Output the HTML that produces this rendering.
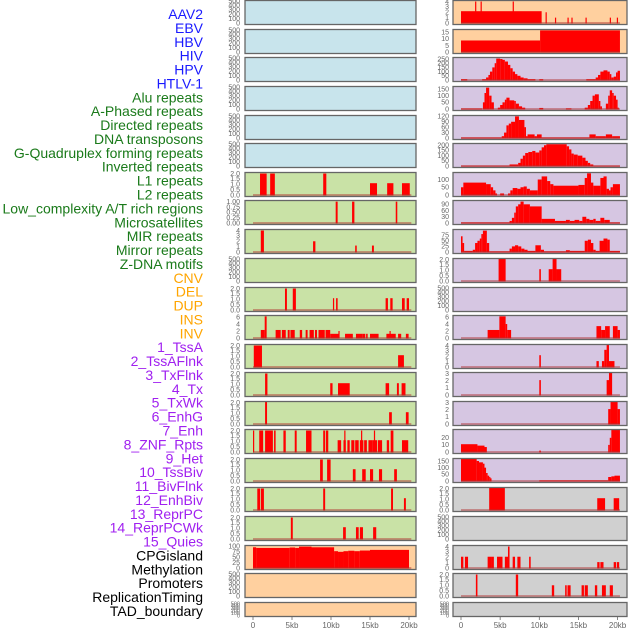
<!DOCTYPE html>
<html><head><meta charset="utf-8">
<style>
html,body{margin:0;padding:0;background:#fff;}
svg{display:block;font-family:"Liberation Sans",sans-serif;}
</style></head>
<body>
<svg id="chart" width="630" height="630" viewBox="0 0 630 630" xmlns="http://www.w3.org/2000/svg">
<g id="labels"></g>
<g id="panels"></g>
<g id="xaxes"></g>
</svg>
<script>
// ---- labels ----
const trackLabels = ["AAV2","EBV","HBV","HIV","HPV","HTLV-1","Alu repeats","A-Phased repeats","Directed repeats","DNA transposons","G-Quadruplex forming repeats","Inverted repeats","L1 repeats","L2 repeats","Low_complexity A/T rich regions","Microsatellites","MIR repeats","Mirror repeats","Z-DNA motifs","CNV","DEL","DUP","INS","INV","1_TssA","2_TssAFlnk","3_TxFlnk","4_Tx","5_TxWk","6_EnhG","7_Enh","8_ZNF_Rpts","9_Het","10_TssBiv","11_BivFlnk","12_EnhBiv","13_ReprPC","14_ReprPCWk","15_Quies","CPGisland","Methylation","Promoters","ReplicationTiming","TAD_boundary"];
const labelGroups = [6,13,5,15,5];
const labelColors = ["#1a1aff","#1a7a1a","#ffa500","#a020f0","#000000"];

// ---- panel rows ----
const rowTops = [0,29,57,86,115,143,172,200,229,258,287,315,344,372,401,429,458,487,516,545,573,602];
const leftBg = ["#c8e4ec","#c8e4ec","#c8e4ec","#c8e4ec","#c8e4ec","#c8e4ec","#c9e2a6","#c9e2a6","#c9e2a6","#c9e2a6","#c9e2a6","#c9e2a6","#c9e2a6","#c9e2a6","#c9e2a6","#c9e2a6","#c9e2a6","#c9e2a6","#c9e2a6","#ffd09f","#ffd09f","#ffd09f"];
const rightBg = ["#ffd09f","#ffd09f","#d6c6e2","#d6c6e2","#d6c6e2","#d6c6e2","#d6c6e2","#d6c6e2","#d6c6e2","#d6c6e2","#d6c6e2","#d6c6e2","#d6c6e2","#d6c6e2","#d6c6e2","#d6c6e2","#d6c6e2","#d0d0d0","#d0d0d0","#d0d0d0","#d0d0d0","#d0d0d0"];

const T500=[0,100,200,300,400,500], T2=[0,0.5,1,1.5,2], T4=[0,1,2,3,4], T3=[0,1,2,3];
const leftTicks = [T500,T500,T500,T500,T500,T500,T2,[0,0.25,0.5,0.75,1],T4,T500,T2,[0,2,4,6],T2,T2,T2,T2,T2,T2,T2,[0,25,50,75,100],T500,T500];
const leftMax = [500,500,500,500,500,500,2.05,1.03,4.1,500,2.05,6.3,2.05,2.05,2.05,2.05,2.05,2.05,2.05,102,500,500];
const rightTicks = [T4,[0,5,10,15],[0,50,100,150,200,250],[0,50,100,150],[0,30,60,90,120],[0,50,100,150,200],[0,50,100],[0,30,60,90],[0,25,50,75],T2,T500,[0,2,4,6],T4,T3,T3,[0,10,20],[0,50,100,150],T2,T500,T4,T2,T500];
const rightMax = [4.1,16.8,262,165,122,212,142,106,98,2.05,500,6.3,4.1,3.1,3.1,31,165,2.05,500,4.1,2.05,500];

// ---- left bars [startKb,endKb,value] ----
const L7=[[0.9,1.75,2],[2.2,2.8,2],[9.0,9.4,2],[15.0,15.9,1.1],[17.2,18.0,1.1],[19.1,20.1,1.1]];
const L8=[[10.6,10.85,1],[12.7,13.0,1],[18.3,18.5,1]];
const L9=[[1.0,1.4,4],[7.7,8.0,2],[13.1,13.3,1.2],[15.25,15.5,1.2]];
const L11=[[4.1,4.35,2],[5.1,5.5,2],[10.25,10.4,1.1],[10.65,10.85,1.1],[17.0,17.3,1.1],[17.6,17.9,1.1],[19.1,19.45,1.1],[19.7,20.0,1.1]];
const L12=[[1.0,1.5,2.3],[1.5,1.75,6.2],[2.9,3.55,2.3],[3.7,4.2,2.3],[4.45,4.7,2.3],[4.8,5.35,2.3],[6.0,6.3,2.3],[6.75,7.0,2.3],[7.25,7.8,2.3],[7.95,8.2,2.3],[8.4,9.2,2.3],[9.3,9.9,2.3],[9.9,11.0,1.2],[10.95,11.1,2],[11.8,12.8,1.2],[13.2,14.0,1.2],[14.0,14.4,1.2],[14.5,14.7,1.2],[15.0,16.1,1.2],[17.1,18.3,1.2],[17.5,17.65,2],[18.6,19.0,1.2],[19.6,19.95,1.2]];
const L13=[[0.1,1.15,2],[18.6,19.35,1.1]];
const L14=[[1.55,1.85,2],[9.9,10.2,1.1],[10.9,12.4,1.1],[17.0,17.45,1.1],[18.45,18.7,1.1],[19.05,19.55,1.1]];
const L15=[[1.55,1.8,2.1],[17.45,17.8,1.1],[19.6,19.95,1.1]];
const L16=[[0,0.15,2],[0.8,1.3,2],[1.55,2.55,2],[2.7,2.9,2],[3.9,4.2,2],[5.35,5.6,2],[6.8,7.5,2],[9.0,9.25,2],[9.35,9.65,2],[10.85,11.3,1.1],[11.6,11.9,1.1],[11.7,11.8,2],[12.1,12.4,1.1],[12.6,13.0,1.1],[13.1,13.55,1.1],[13.7,14.15,1.1],[13.85,13.95,2],[14.25,14.6,1.1],[14.8,15.3,1.1],[15.3,15.9,1.1],[15.5,15.65,2],[16.0,16.55,1.1],[17.15,17.45,1.1],[17.65,18.0,2],[19.1,19.9,1.1]];
const L17=[[8.6,8.95,2],[9.5,9.95,2],[12.8,13.15,1.1],[14.0,14.45,1.1],[15.0,15.4,1.1],[16.15,16.55,1.1],[18.1,18.45,1.1]];
const L18=[[0.55,0.9,2],[1.0,1.4,2],[9.0,9.25,2],[17.7,17.95,2],[19.35,19.6,1.1]];
const L19=[[4.85,5.1,2],[11.55,11.9,1.1],[13.2,13.55,1.1],[13.7,14.1,1.1],[15.4,15.8,1.1]];
const L20=[[0,0.4,96],[0.4,4.7,93],[4.7,5.4,95],[5.4,5.9,93],[5.9,7.5,99],[7.5,10.4,96],[10.4,10.9,78],[10.9,11.6,75],[11.6,12.2,78],[12.2,13.0,80],[13.0,13.7,78],[13.7,15.0,81],[15.0,20.0,84]];
const leftData=[null,null,null,null,null,null,L7,L8,L9,null,L11,L12,L13,L14,L15,L16,L17,L18,L19,L20,null,null];

// ---- right data: step profiles [startKb,value] (ends at next start) or bars ----
const R1=[[0,10.3,2.2],[1.8,1.95,4],[2.5,2.65,4],[6.6,6.75,4],[10.8,10.95,2],[12.0,12.15,1],[13.6,13.75,1],[14.1,14.25,1],[15.9,16.05,1],[19.0,19.15,1],[19.9,20.05,1]];
const R2=[[0,10.1,8.8],[10.1,20.3,16.5]];
const R3=[[0,10],[0.8,0],[2.7,10],[3.2,30],[3.5,60],[3.7,100],[4.0,150],[4.3,200],[4.5,255],[5.0,250],[5.3,240],[5.6,220],[6.0,180],[6.3,140],[6.6,100],[6.9,70],[7.2,50],[7.6,30],[8.0,20],[8.5,10],[9.5,0],[10.0,10],[10.5,0],[16.0,10],[17.2,30],[17.5,60],[17.8,100],[18.2,115],[18.7,100],[19.0,70],[19.2,30],[19.5,40],[19.8,90],[20.0,110],[20.3,0]];
const R4=[[0,4],[2.7,0],[2.8,50],[3.0,120],[3.2,160],[3.6,100],[3.9,50],[4.2,0],[4.7,10],[5.0,30],[5.3,50],[5.6,70],[5.8,85],[6.2,65],[6.8,60],[7.0,40],[7.4,20],[7.8,10],[8.2,0],[10.0,8],[10.5,0],[13.4,5],[14.1,0],[15.8,10],[16.2,30],[16.5,60],[16.8,100],[17.1,110],[17.6,60],[17.8,20],[18.0,0],[18.5,40],[18.8,100],[19.0,140],[19.3,120],[19.5,100],[19.8,70],[20.0,10],[20.1,0]];
const R5=[[0,3],[5.2,10],[5.5,30],[5.8,70],[6.1,80],[6.4,90],[6.9,120],[7.4,100],[8.1,60],[8.3,10],[8.5,20],[9.4,10],[9.7,20],[10.3,3],[16.4,20],[17.2,10],[18.5,20],[19.3,10],[20.3,0]];
const R6=[[0,3],[6.2,15],[7.3,30],[7.6,70],[7.9,100],[8.2,125],[8.6,135],[9.1,145],[9.5,130],[10.0,150],[10.3,180],[10.6,200],[10.9,210],[13.5,190],[13.8,160],[14.1,120],[14.4,110],[14.9,100],[15.5,80],[15.9,50],[16.2,30],[16.5,15],[16.9,3],[20.3,0]];
const R7=[[0,50],[0.3,80],[3.2,70],[3.8,50],[4.1,30],[4.4,10],[4.6,0],[5.0,10],[5.5,0],[6.0,10],[6.3,30],[6.6,45],[7.2,40],[7.6,50],[8.0,55],[8.4,40],[8.8,30],[9.8,100],[10.3,120],[11.0,90],[11.4,70],[11.8,60],[15.0,65],[15.8,110],[16.1,140],[16.6,80],[16.9,60],[17.8,110],[18.2,120],[18.6,40],[18.9,30],[19.1,50],[19.4,70],[20.3,0]];
const R8=[[0,3],[6.2,10],[6.5,25],[6.8,50],[7.0,80],[7.3,90],[7.6,103],[8.0,90],[8.8,80],[10.3,20],[12.0,10],[13.4,15],[13.9,10],[14.5,15],[15.1,10],[15.5,30],[16.0,20],[16.4,15],[16.9,20],[17.2,10],[17.8,25],[18.3,15],[19.0,3],[20.3,0]];
const R9=[[0,70],[0.2,40],[0.4,5],[1.5,10],[1.8,40],[2.1,50],[2.4,60],[2.6,80],[2.8,95],[3.3,40],[3.6,3],[6.2,15],[6.5,25],[6.9,30],[7.3,25],[7.7,15],[8.1,10],[8.5,5],[9.5,30],[10.2,10],[10.6,3],[13.4,8],[13.9,5],[15.8,50],[16.2,55],[16.6,40],[16.9,10],[17.2,5],[17.7,50],[18.2,60],[18.7,55],[19.0,5],[20.3,0]];
const R10=[[4.8,5.7,2.05],[10.0,10.2,1.1],[11.2,11.7,1.1],[11.7,12.2,2.05],[12.2,12.8,1.1]];
const R12=[[3.4,4.9,2.3],[4.9,5.7,6.2],[5.7,5.9,4],[5.9,6.4,2.3],[17.3,17.9,3.4],[17.9,18.4,2.3],[18.4,19.0,3.4],[19.4,20.0,3.4],[20.0,20.3,2.3]];
const R13=[[10.0,10.2,2.2],[17.3,17.6,1.1],[18.0,18.3,1.1],[18.3,18.6,3.2],[18.6,18.9,4.1],[18.9,19.6,1.1]];
const R14=[[10.0,10.2,2.1],[18.6,18.9,2.1],[18.9,19.3,3.1]];
const R15=[[18.8,19.1,2.1],[19.1,20.0,3.1],[20.0,20.3,2.1]];
const R16=[[0,2.1,11],[2.1,3.0,9],[3.0,3.3,7],[10.0,10.2,2],[18.8,19.0,10],[19.0,19.2,20],[19.2,20.3,31]];
const R17=[[0,2.0,165],[2.0,2.3,150],[2.3,2.8,140],[2.8,3.0,130],[3.0,3.2,100],[3.2,3.4,60],[3.4,3.6,40],[3.6,3.7,30],[3.7,3.9,20],[10.0,18.8,5],[18.8,19.2,30],[19.2,19.6,35],[19.6,20.3,40]];
const R18=[[3.6,5.6,2.05],[17.4,18.4,1.1],[19.5,20.2,1.1]];
const R20=[[0,0.3,2.1],[0.5,0.9,2.1],[3.4,3.9,2.1],[3.9,4.2,2.1],[4.6,5.3,2.1],[5.6,6.0,2.1],[6.0,6.2,4],[6.6,6.9,2.1],[7.2,7.6,2.1],[8.7,8.9,2.1],[17.4,17.7,1.1],[17.8,18.2,1.1],[19.5,19.8,1.1],[19.9,20.2,1.1]];
const R21=[[1.9,2.1,2],[7.0,7.3,2],[11.6,11.9,1],[13.3,13.5,1],[13.6,14.0,1],[15.4,15.7,1],[15.8,16.2,1],[17.1,17.4,1],[18.0,18.5,1],[19.0,19.4,1]];
const rightData=[R1,R2,R3,R4,R5,R6,R7,R8,R9,R10,null,R12,R13,R14,R15,R16,R17,R18,null,R20,R21,null];
const rightIsProfile=[false,false,true,true,true,true,true,true,true,false,false,false,false,false,false,false,false,false,false,false,false,false];

const xTickKb=[0,5,10,15,20];
const xTickLabels=["0","5kb","10kb","15kb","20kb"];

const NS="http://www.w3.org/2000/svg";
function mk(tag,attrs,parent){const e=document.createElementNS(NS,tag);for(const k in attrs)e.setAttribute(k,attrs[k]);parent.appendChild(e);return e;}
const xL=kb=>253+kb*7.8, xR=kb=>461+kb*7.83;
const panelL={x0:245,x1:416,sx:xL,tx:240}, panelR={x0:453,x1:627,sx:xR,tx:449};

// labels
const lg=document.getElementById('labels');
let gi=0,cnt=0;
trackLabels.forEach((t,i)=>{
  while(cnt>=labelGroups[gi]){gi++;cnt=0;}
  cnt++;
  const y=14+i*(597/43)+5;
  const el=mk('text',{x:203,y:y,'text-anchor':'end','font-size':'14',fill:labelColors[gi]},lg);
  el.textContent=t;
  
  
});

function stepsToBars(p){const b=[];for(let i=0;i<p.length-1;i++){if(p[i][1]>0)b.push([p[i][0],p[i+1][0],p[i][1]]);}return b;}
function decimalsOf(ticks){let d=0;ticks.forEach(t=>{const s=String(t);const i=s.indexOf('.');if(i>=0)d=Math.max(d,s.length-i-1);});return d;}

const pg=document.getElementById('panels');
function drawPanel(side,r,top,h,bg,ticks,ymax,bars){
  const P=side==='left'?panelL:panelR;
  const g=mk('g',{},pg);
  
  
  mk('rect',{x:P.x0,y:top,width:P.x1-P.x0,height:h,fill:bg},g);
  const yv=v=>top+h-2-v/ymax*(h-3);
  const dec=decimalsOf(ticks);
  ticks.forEach(t=>{
    const tt=mk('text',{x:P.tx,y:yv(t)+2.3,'text-anchor':'end','font-size':h<20?'5.5':'7',fill:'#666'},g);
    tt.textContent=t.toFixed(dec);
    
    
  });
  if(bars){
    bars.forEach(b=>{
      const x0=P.sx(b[0]),x1=P.sx(b[1]);
      const rr=mk('rect',{x:x0,y:yv(b[2]),width:Math.max(1.2,x1-x0),height:yv(0)-yv(b[2])+0.5,fill:'#ff0000'},g);
      
      
    });
    mk('line',{x1:P.sx(0),x2:P.sx(20.3),y1:yv(0),y2:yv(0),stroke:'#b03030','stroke-opacity':'0.6','stroke-width':'1.5'},g);
  }
  mk('rect',{x:P.x0,y:top+0.5,width:P.x1-P.x0,height:h-1,fill:'none',stroke:'#666','stroke-width':'1.3'},g);
}
rowTops.forEach((top,r)=>{
  const h=r===rowTops.length-1?15:25;
  drawPanel('left',r,top,h,leftBg[r],leftTicks[r],leftMax[r],leftData[r]);
  let rd=rightData[r];
  if(rd&&rightIsProfile[r])rd=stepsToBars(rd);
  drawPanel('right',r,top,h,rightBg[r],rightTicks[r],rightMax[r],rd);
});

// x axes
const xg=document.getElementById('xaxes');
[panelL,panelR].forEach((P,s)=>{
  xTickKb.forEach((k,i)=>{
    mk('line',{x1:P.sx(k),x2:P.sx(k),y1:617,y2:620,stroke:'#666','stroke-width':'0.8'},xg);
    const t=mk('text',{x:P.sx(k),y:628,'text-anchor':'middle','font-size':'8',fill:'#666'},xg);
    t.textContent=xTickLabels[i];
    
    
  });
});
</script>
</body></html>
